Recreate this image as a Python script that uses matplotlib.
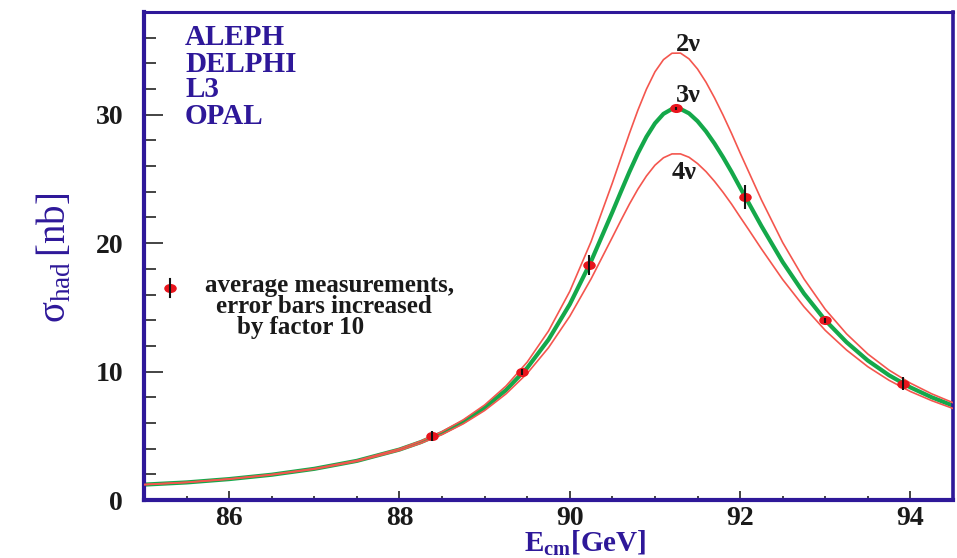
import matplotlib
matplotlib.use("Agg")
import matplotlib.pyplot as plt
from matplotlib.path import Path
from matplotlib.transforms import Affine2D
from matplotlib.ticker import MultipleLocator

plt.rcParams['font.family'] = ['Liberation Serif', 'DejaVu Serif']
plt.rcParams['mathtext.fontset'] = 'custom'
plt.rcParams['mathtext.rm'] = 'Liberation Serif'
plt.rcParams['mathtext.bf'] = 'Liberation Serif:bold'
plt.rcParams['mathtext.it'] = 'Liberation Serif:italic'

INDIGO = '#2e1899'

# line shape for 2, 3 and 4 light neutrino species
energy = [85, 85.5, 86, 86.5, 87, 87.5, 88, 88.25, 88.5, 88.75, 89, 89.25,
          89.5, 89.75, 90, 90.25, 90.5, 90.6, 90.7, 90.8, 90.9, 91.0, 91.1,
          91.2, 91.3, 91.4, 91.5, 91.6, 91.7, 91.8, 91.9, 92.0, 92.1, 92.25,
          92.5, 92.75, 93.0, 93.25, 93.5, 93.75, 94.0, 94.25, 94.5]
sigma_3nu = [1.20, 1.37, 1.63, 1.97, 2.43, 3.05, 3.93, 4.51, 5.22, 6.09, 7.19,
             8.56, 10.29, 12.49, 15.24, 18.59, 22.42, 24.00, 25.55, 27.00,
             28.28, 29.33, 30.07, 30.45, 30.45, 30.11, 29.50, 28.70, 27.75,
             26.69, 25.55, 24.33, 23.14, 21.34, 18.53, 16.08, 14.00, 12.29,
             10.86, 9.71, 8.77, 8.00, 7.35]
sigma_2nu = [1.21, 1.38, 1.65, 1.99, 2.45, 3.08, 3.99, 4.59, 5.33, 6.25, 7.40,
             8.87, 10.74, 13.16, 16.25, 20.12, 24.69, 26.62, 28.54, 30.36,
             31.99, 33.34, 34.29, 34.79, 34.80, 34.35, 33.56, 32.53, 31.31,
             29.97, 28.54, 27.03, 25.57, 23.38, 20.05, 17.22, 14.85, 12.94,
             11.37, 10.11, 9.10, 8.27, 7.58]
sigma_4nu = [1.19, 1.37, 1.62, 1.96, 2.40, 3.01, 3.86, 4.42, 5.10, 5.94, 6.97,
             8.26, 9.86, 11.86, 14.31, 17.22, 20.46, 21.77, 23.04, 24.21,
             25.23, 26.07, 26.65, 26.95, 26.95, 26.69, 26.20, 25.57, 24.81,
             23.96, 23.04, 22.04, 21.06, 19.56, 17.17, 15.05, 13.21, 11.68,
             10.38, 9.32, 8.45, 7.74, 7.13]

# averaged LEP measurements, errors scaled by 10
meas_e = [88.38, 89.44, 90.23, 91.25, 92.06, 93.00, 93.91]
meas_sigma = [5.0, 9.98, 18.3, 30.5, 23.6, 14.0, 9.07]
meas_err = [0.4, 0.22, 0.75, 0.12, 0.95, 0.2, 0.48]

experiments = ['ALEPH', 'DELPHI', 'L3', 'OPAL']
nu_labels = ['2\u03bd', '3\u03bd', '4\u03bd']
nu_label_pos = [(91.39, 35.5), (91.39, 31.5), (91.34, 25.5)]
legend_lines = ['average measurements,', 'error bars increased', 'by factor 10']

fig = plt.figure(figsize=(9.57, 5.58), dpi=100)
ax = fig.add_axes([0.1505, 0.1039, 0.8453, 0.8746])

ax.plot(energy, sigma_3nu, color='#14a84a', lw=3.0, zorder=2)
ax.plot(energy, sigma_2nu, color='#f4564e', lw=1.2, zorder=3)
ax.plot(energy, sigma_4nu, color='#f4564e', lw=1.2, zorder=3)

dot = Path.unit_circle().transformed(Affine2D().scale(1.45, 1.0))
ax.plot(meas_e, meas_sigma, ls='none', marker=dot, ms=8, color='#e8141c',
        zorder=4)
ax.errorbar(meas_e, meas_sigma, yerr=meas_err, fmt='none', ecolor='#111111',
            elinewidth=1.5, capsize=0, zorder=5)

for lab, (x, y) in zip(nu_labels, nu_label_pos):
    ax.text(x, y, lab, fontsize=19, fontweight='bold', color='#1a1a1a',
            ha='center', va='center', zorder=6)

for i, name in enumerate(experiments):
    ax.text(0.0507, [0.932, 0.877, 0.826, 0.770][i], name, transform=ax.transAxes,
            fontsize=21, fontweight='bold', color=INDIGO, va='baseline')

# legend entry drawn by hand
ax.plot([0.032], [0.434], transform=ax.transAxes, marker=dot, ms=8,
        color='#e8141c', ls='none', clip_on=False)
ax.plot([0.032, 0.032], [0.416, 0.452], transform=ax.transAxes, color='#111111',
        lw=1.5, clip_on=False)
for txt, xl, yb in zip(legend_lines, [0.0754, 0.0890, 0.1150], [0.4262, 0.3832, 0.3402]):
    ax.text(xl, yb, txt, transform=ax.transAxes, fontsize=18, fontweight='bold',
            color='#1a1a1a', ha='left', va='baseline')

ax.set_xlim(85, 94.5)
ax.set_ylim(0, 38)
ax.xaxis.set_major_locator(MultipleLocator(2))
ax.xaxis.set_minor_locator(MultipleLocator(0.5))
ax.yaxis.set_major_locator(MultipleLocator(10))
ax.yaxis.set_minor_locator(MultipleLocator(2))

ax.tick_params(axis='both', which='both', direction='in', color='#111111',
               width=1.1, top=False, right=False)
ax.tick_params(axis='y', which='major', length=13.5, pad=15)
ax.tick_params(axis='y', which='minor', length=8.5)
ax.tick_params(axis='x', which='major', length=6.5, pad=4)
ax.tick_params(axis='x', which='minor', length=3)
for lab in ax.get_xticklabels() + ax.get_yticklabels():
    lab.set_fontsize(20)
    lab.set_fontweight('bold')
    lab.set_color('#1a1a1a')

for side, lw in [('left', 3.0), ('bottom', 3.0), ('top', 2.2), ('right', 2.6)]:
    ax.spines[side].set_color(INDIGO)
    ax.spines[side].set_linewidth(lw)

ax.set_xlabel(r'$\mathbf{E_{cm}[GeV]}$', fontsize=21, color=INDIGO, va='top')
ax.xaxis.set_label_coords(0.545, -0.058)
ax.set_ylabel('$\\mathrm{\u03c3_{had}\\,[nb]}$', fontsize=28, color=INDIGO)
ax.yaxis.set_label_coords(-0.086, 0.496)

fig.savefig('out.png', dpi=100)
